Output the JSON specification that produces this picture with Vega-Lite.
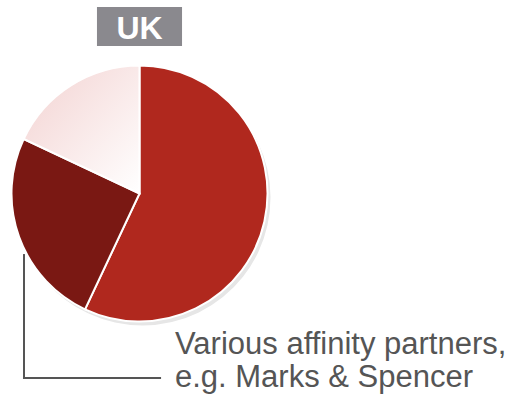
{
  "$schema": "https://vega.github.io/schema/vega-lite/v6.json",
  "width": 257,
  "height": 257,
  "autosize": {"type": "none"},
  "padding": {"left": 11, "top": 65, "right": 252, "bottom": 82},
  "background": "white",
  "config": {"view": {"stroke": null}},
  "datasets": {
    "shares": [
      {"segment": "Main", "value": 57},
      {"segment": "Other", "value": 25},
      {"segment": "Affinity", "value": 18}
    ],
    "leader": [
      {"x": -0.899, "y": -0.479, "x2": -0.899, "y2": -1.436},
      {"x": -0.899, "y": -1.436, "x2": 0.16, "y2": -1.436}
    ],
    "labels": [
      {"label": "Various affinity partners,", "x": 0.276, "y": -1.252},
      {"label": "e.g. Marks & Spencer", "x": 0.276, "y": -1.506}
    ],
    "titlebox": [
      {"label": "UK", "x": -0.331, "x2": 0.331, "y": 1.451, "y2": 1.148, "ty": 1.206, "tx": 0}
    ]
  },
  "layer": [
    {
      "data": {"name": "shares"},
      "transform": [{"stack": "value", "groupby": [], "sort": [{"field": "value", "order": "descending"}], "as": ["t0", "t1"]}],
      "mark": {"type": "arc", "outerRadius": 128, "fill": "#e6e6e6", "xOffset": 3, "yOffset": 4},
      "encoding": {
        "theta": {"field": "t0", "type": "quantitative", "scale": {"domain": [0, 100]}},
        "theta2": {"field": "t1"}
      }
    },
    {
      "data": {"name": "shares"},
      "transform": [
        {"stack": "value", "groupby": [], "sort": [{"field": "value", "order": "descending"}], "as": ["t0", "t1"]},
        {"filter": "datum.segment !== 'Affinity'"}
      ],
      "mark": {"type": "arc", "outerRadius": 128, "stroke": "white", "strokeWidth": 2},
      "encoding": {
        "theta": {"field": "t0", "type": "quantitative", "scale": {"domain": [0, 100]}},
        "theta2": {"field": "t1"},
        "color": {"field": "segment", "type": "nominal", "scale": {"domain": ["Main", "Other"], "range": ["#b0281e", "#7a1813"]}, "legend": null}
      }
    },
    {
      "data": {"name": "shares"},
      "transform": [
        {"stack": "value", "groupby": [], "sort": [{"field": "value", "order": "descending"}], "as": ["t0", "t1"]},
        {"filter": "datum.segment === 'Affinity'"}
      ],
      "mark": {
        "type": "arc", "outerRadius": 128, "stroke": "white", "strokeWidth": 2,
        "fill": {"gradient": "linear", "x1": 0, "y1": 0, "x2": 1, "y2": 1,
          "stops": [{"offset": 0, "color": "#f3d2d1"}, {"offset": 1, "color": "#ffffff"}]}
      },
      "encoding": {
        "theta": {"field": "t0", "type": "quantitative", "scale": {"domain": [0, 100]}},
        "theta2": {"field": "t1"}
      }
    },
    {
      "data": {"name": "leader"},
      "mark": {"type": "rule", "color": "#555555", "strokeWidth": 2, "strokeCap": "square"},
      "encoding": {
        "x": {"field": "x", "type": "quantitative", "scale": {"domain": [-1, 1], "nice": false, "zero": false}, "axis": null},
        "y": {"field": "y", "type": "quantitative", "scale": {"domain": [-1, 1], "nice": false, "zero": false}, "axis": null},
        "x2": {"field": "x2"},
        "y2": {"field": "y2"}
      }
    },
    {
      "data": {"name": "labels"},
      "mark": {"type": "text", "font": "Liberation Sans", "fontSize": 31, "color": "#555555", "align": "left", "baseline": "alphabetic"},
      "encoding": {
        "x": {"field": "x", "type": "quantitative", "scale": {"domain": [-1, 1], "nice": false, "zero": false}, "axis": null},
        "y": {"field": "y", "type": "quantitative", "scale": {"domain": [-1, 1], "nice": false, "zero": false}, "axis": null},
        "text": {"field": "label"}
      }
    },
    {
      "data": {"name": "titlebox"},
      "mark": {"type": "rect", "color": "#8a898e"},
      "encoding": {
        "x": {"field": "x", "type": "quantitative", "scale": {"domain": [-1, 1], "nice": false, "zero": false}, "axis": null},
        "y": {"field": "y", "type": "quantitative", "scale": {"domain": [-1, 1], "nice": false, "zero": false}, "axis": null},
        "x2": {"field": "x2"},
        "y2": {"field": "y2"}
      }
    },
    {
      "data": {"name": "titlebox"},
      "mark": {"type": "text", "font": "Liberation Sans", "fontSize": 32, "fontWeight": "bold", "color": "white", "align": "center", "baseline": "alphabetic"},
      "encoding": {
        "x": {"field": "tx", "type": "quantitative", "scale": {"domain": [-1, 1], "nice": false, "zero": false}, "axis": null},
        "y": {"field": "ty", "type": "quantitative", "scale": {"domain": [-1, 1], "nice": false, "zero": false}, "axis": null},
        "text": {"field": "label"}
      }
    }
  ]
}
